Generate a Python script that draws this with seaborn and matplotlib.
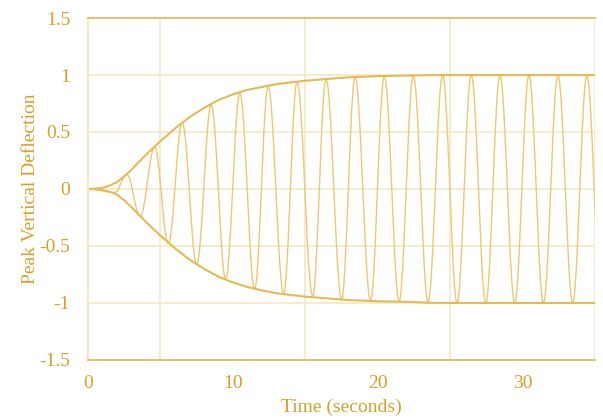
import numpy as np
import pandas as pd
import matplotlib
matplotlib.use("Agg")
import matplotlib.pyplot as plt
import seaborn as sns

# peaks and troughs of the oscillation
peak_t = [0.0, 1.86, 2.67, 3.6, 4.6, 5.54, 6.5, 7.5, 8.5, 9.5, 10.48, 11.5,
          12.43, 13.5, 14.43, 15.5, 16.43, 17.5, 18.43, 19.5, 20.45, 21.47,
          22.45, 23.47, 24.47, 25.47, 26.45, 27.45, 28.43, 29.45, 30.43,
          31.43, 32.43, 33.45, 34.43, 35.43]
peak_v = [0.0, -0.03, 0.13, -0.24, 0.37, -0.48, 0.58, -0.66, 0.74, -0.79,
          0.84, -0.88, 0.90, -0.92, 0.94, -0.94, 0.96, -0.97, 0.98, -0.98,
          0.99, -0.985, 0.995, -0.99, 1.0, -1.0, 1.0, -1.0, 1.0, -1.0, 1.0,
          -1.0, 1.0, -1.0, 1.0, -1.0]

# envelope
env_t = [0, 0.5, 1, 1.5, 2, 2.5, 3, 4, 5, 6, 7, 8, 9, 10, 11, 12, 13, 14,
         15, 16, 17, 18, 19, 20, 22, 24, 35]
env_upper = [0, 0.002, 0.01, 0.03, 0.06, 0.11, 0.17, 0.30, 0.42, 0.53, 0.63,
             0.71, 0.78, 0.83, 0.87, 0.895, 0.92, 0.935, 0.95, 0.96, 0.97,
             0.98, 0.985, 0.99, 0.995, 1.0, 1.0]
env_lower = [0, -0.002, -0.01, -0.025, -0.05, -0.10, -0.16, -0.29, -0.41,
             -0.52, -0.62, -0.70, -0.77, -0.82, -0.86, -0.89, -0.915, -0.93,
             -0.945, -0.955, -0.965, -0.975, -0.98, -0.985, -0.99, -1.0, -1.0]

x_ticks = [0, 10, 20, 30]
y_ticks = [-1.5, -1, -0.5, 0, 0.5, 1, 1.5]
y_labels = ["-1.5", "-1", "-0.5", "0", "0.5", "1", "1.5"]

text_col = "#d4a128"
wave_col = "#ecc873"
env_col = "#e2bb55"
grid_col = "#f6e8c4"

sns.set_style("white")
plt.rcParams['font.family'] = ['Liberation Serif', 'DejaVu Serif']

# smooth the extrema into a wave shape (half-cosine between neighbours)
s = np.linspace(0, 1, 25)
wt, wv = [], []
for i in range(len(peak_t) - 1):
    t0, t1 = peak_t[i], peak_t[i + 1]
    v0, v1 = peak_v[i], peak_v[i + 1]
    wt.extend(t0 + (t1 - t0) * s[:-1])
    wv.extend(v0 + (v1 - v0) * (1 - np.cos(np.pi * s[:-1])) / 2)
wave = pd.DataFrame({"t": wt, "v": wv})
env = pd.DataFrame({"t": env_t, "up": env_upper, "lo": env_lower})

fig = plt.figure(figsize=(6.03, 4.19), dpi=100)
ax = fig.add_axes([0.146, 0.141, 0.841, 0.816])

sns.lineplot(data=wave, x="t", y="v", ax=ax, color=wave_col, lw=1.0,
             sort=False, estimator=None)
sns.lineplot(data=env, x="t", y="up", ax=ax, color=env_col, lw=1.5,
             sort=False, estimator=None)
sns.lineplot(data=env, x="t", y="lo", ax=ax, color=env_col, lw=1.5,
             sort=False, estimator=None)

ax.set_xlim(0, 35)
ax.set_ylim(-1.5, 1.5)

ax.set_xticks(x_ticks)
ax.set_xticks([5, 15, 25, 35], minor=True)
ax.set_yticks(y_ticks)
ax.set_yticklabels(y_labels)
ax.set_yticks([-1.25, -0.75, -0.25, 0.25, 0.75, 1.25], minor=True)

ax.grid(False)
for xv in [5, 15, 25, 35]:
    ax.axvline(xv, color=grid_col, lw=1.2, zorder=0)
for yv in y_ticks:
    ax.axhline(yv, color=grid_col, lw=1.2, zorder=0)

ax.tick_params(axis="x", which="major", direction="inout", length=9,
               width=1, color=grid_col, labelsize=14, labelcolor=text_col,
               pad=6)
ax.tick_params(axis="x", which="minor", length=0)
ax.tick_params(axis="y", which="major", direction="out", length=8,
               width=1.2, color=grid_col, labelsize=14, labelcolor=text_col,
               pad=5)
ax.tick_params(axis="y", which="minor", direction="inout", length=9,
               width=1, color=grid_col)

for side in ["top", "bottom"]:
    ax.spines[side].set_color("#e6c064")
    ax.spines[side].set_linewidth(1.4)
ax.spines["left"].set_color(grid_col)
ax.spines["left"].set_linewidth(1.4)
ax.spines["right"].set_visible(False)

ax.set_xlabel("Time (seconds)", fontsize=14, color=text_col, labelpad=5)
ax.set_ylabel("Peak Vertical Deflection", fontsize=14, color=text_col,
              labelpad=0)

fig.savefig("out.png", dpi=100)
